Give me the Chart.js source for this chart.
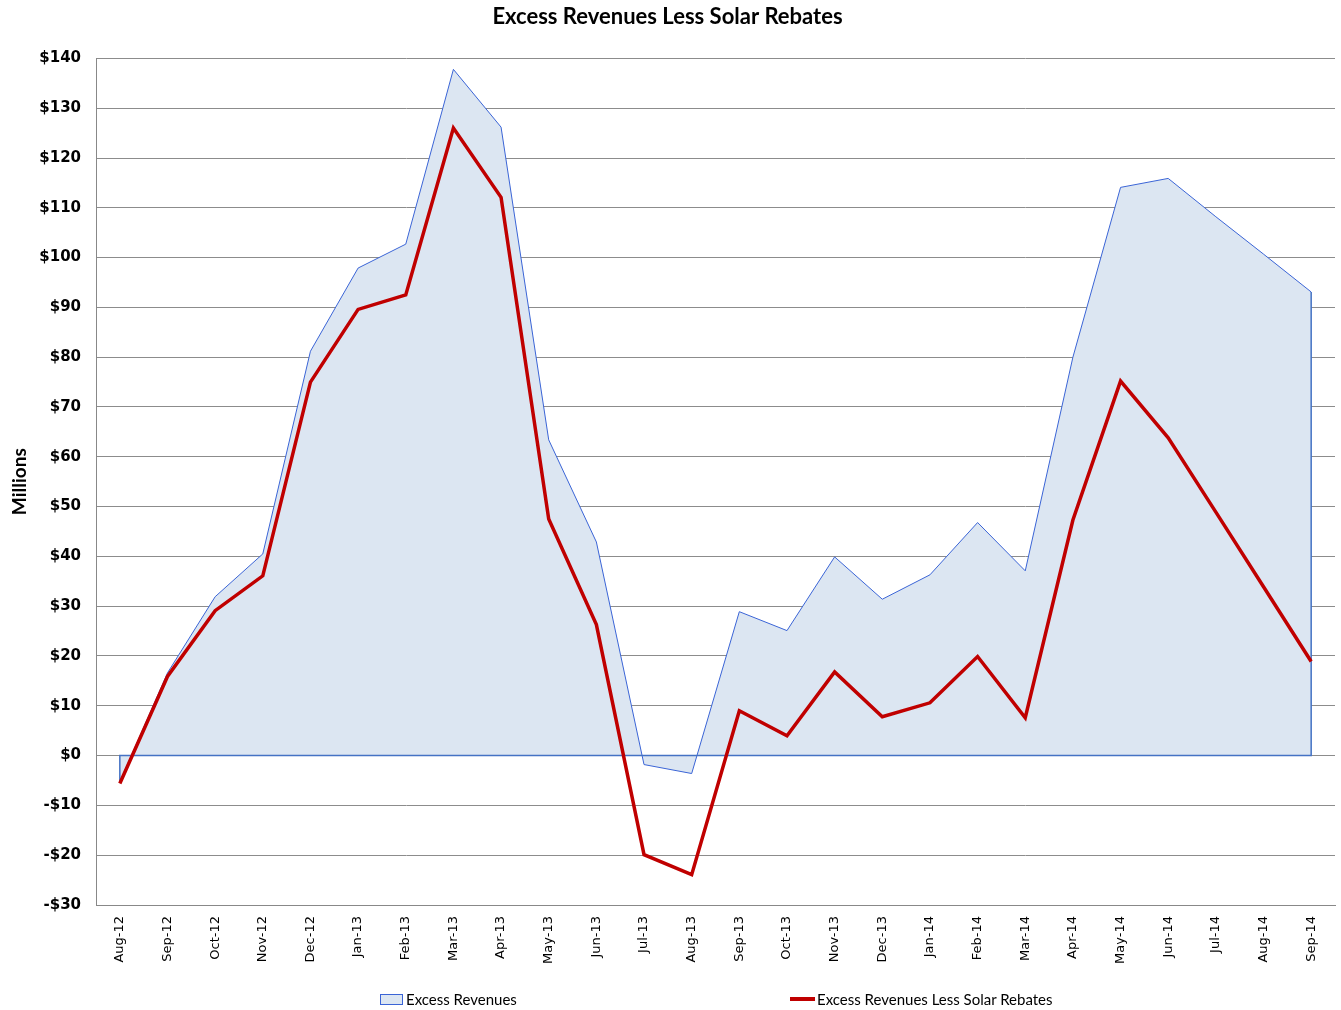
<!DOCTYPE html>
<html>
<head>
<meta charset="utf-8">
<title>Excess Revenues Less Solar Rebates</title>
<script src="https://cdn.jsdelivr.net/npm/chart.js@4.4.1/dist/chart.umd.min.js"></script>
<style>
    html, body { margin: 0; padding: 0; background: #fff; }
    #wrap { position: relative; width: 1341px; height: 1010px; }
    #legend { position: absolute; left: 0; top: 990px; width: 1341px; height: 20px;
              font: 15px Lato, sans-serif; color: #000; }
    .item { position: absolute; top: 0; display: flex; align-items: center; height: 18px; }
    .swatch-area { width: 23px; height: 11px; background: #dce6f2; border: 1px solid #3a64d6; box-sizing: border-box; margin-right: 3px; }
    .swatch-line { width: 25px; height: 4px; background: #c00000; margin-right: 2px; }
</style>
</head>
<body>
<div id="wrap">
    <canvas id="chart" width="1341" height="1010"></canvas>
    <div id="legend">
        <div class="item" style="left:380px;"><span class="swatch-area"></span>Excess Revenues</div>
        <div class="item" style="left:790px;"><span class="swatch-line"></span>Excess Revenues Less Solar Rebates</div>
    </div>
</div>
<script>
// Mois (Aug-12 .. Sep-14)
var months = ['Aug-12', 'Sep-12', 'Oct-12', 'Nov-12', 'Dec-12', 'Jan-13', 'Feb-13', 'Mar-13', 'Apr-13',
              'May-13', 'Jun-13', 'Jul-13', 'Aug-13', 'Sep-13', 'Oct-13', 'Nov-13', 'Dec-13', 'Jan-14',
              'Feb-14', 'Mar-14', 'Apr-14', 'May-14', 'Jun-14', 'Jul-14', 'Aug-14', 'Sep-14'];

// Millions $
var excessRevenues = [-5.3, 16.6, 31.9, 40.5, 81.2, 97.9, 102.7, 137.8, 126.2,
                      63.4, 42.9, -1.8, -3.6, 28.9, 25.1, 39.9, 31.4, 36.3,
                      46.8, 37.1, 80.0, 114.1, 115.9, 108.2, 100.7, 93.1];

var lessSolarRebates = [-5.6, 15.9, 29.1, 36.1, 75.0, 89.6, 92.5, 126.0, 112.1,
                        47.5, 26.3, -19.9, -23.9, 9.0, 4.0, 16.8, 7.8, 10.6,
                        19.9, 7.6, 47.3, 75.2, 63.8, 48.9, 33.9, 18.9];

var yMin = -30, yMax = 140, yStep = 10;

function money(v) {
    return v < 0 ? '-$' + Math.abs(v) : '$' + v;
}

// Contour de l'aire : base à 0 et bords verticaux (comme Excel)
var areaOutline = {
    id: 'areaOutline',
    afterDatasetDraw: function (chart, args) {
        if (args.index !== 0) return;
        var xs = chart.scales.x, ys = chart.scales.y;
        var ctx = chart.ctx;
        var n = excessRevenues.length;
        var x0 = xs.getPixelForValue(0), x1 = xs.getPixelForValue(n - 1);
        var yz = ys.getPixelForValue(0);
        ctx.save();
        ctx.strokeStyle = '#4472c4';
        ctx.lineWidth = 1.5;
        ctx.beginPath();
        ctx.moveTo(x0, ys.getPixelForValue(excessRevenues[0]));
        ctx.lineTo(x0, yz);
        ctx.lineTo(x1, yz);
        ctx.lineTo(x1, ys.getPixelForValue(excessRevenues[n - 1]));
        ctx.stroke();
        ctx.restore();
    }
};

new Chart(document.getElementById('chart'), {
    type: 'line',
    data: {
        labels: months,
        datasets: [
            {
                label: 'Excess Revenues',
                data: excessRevenues,
                borderColor: '#3a64d6',
                borderWidth: 1,
                backgroundColor: '#dce6f2',
                fill: 'origin',
                pointRadius: 0,
                tension: 0,
                order: 2
            },
            {
                label: 'Excess Revenues Less Solar Rebates',
                data: lessSolarRebates,
                borderColor: '#c00000',
                borderWidth: 3.5,
                backgroundColor: '#c00000',
                fill: false,
                pointRadius: 0,
                tension: 0,
                order: 1
            }
        ]
    },
    plugins: [areaOutline],
    options: {
        responsive: false,
        animation: false,
        layout: { padding: { left: 0, right: 6, top: 0, bottom: 0 } },
        plugins: {
            legend: { display: false },
            tooltip: { enabled: false },
            title: {
                display: true,
                text: 'Excess Revenues Less Solar Rebates',
                color: '#000',
                font: { family: 'Lato', weight: 'bold', size: 22 },
                padding: { top: 4, bottom: 28 }
            }
        },
        scales: {
            x: {
                offset: true,
                grid: { display: false, drawTicks: false },
                border: { display: true, color: '#888' },
                ticks: {
                    color: '#000',
                    font: { family: 'DejaVu Sans', size: 13 },
                    minRotation: 90,
                    maxRotation: 90,
                    autoSkip: false,
                    padding: 11
                },
                afterFit: function (scale) { scale.height = 105; }
            },
            y: {
                min: yMin,
                max: yMax,
                grid: { color: '#8c8c8c', lineWidth: 1, drawTicks: false },
                border: { display: true, color: '#888' },
                ticks: {
                    stepSize: yStep,
                    color: '#000',
                    font: { family: 'DejaVu Sans', weight: 'bold', size: 15 },
                    padding: 15,
                    callback: function (v) { return money(v); }
                },
                title: {
                    display: true,
                    text: 'Millions',
                    color: '#000',
                    font: { family: 'Lato', weight: 'bold', size: 19 },
                    padding: { top: 8, bottom: 0 }
                },
                afterFit: function (scale) { scale.width = 96; }
            }
        }
    }
});
</script>
</body>
</html>
